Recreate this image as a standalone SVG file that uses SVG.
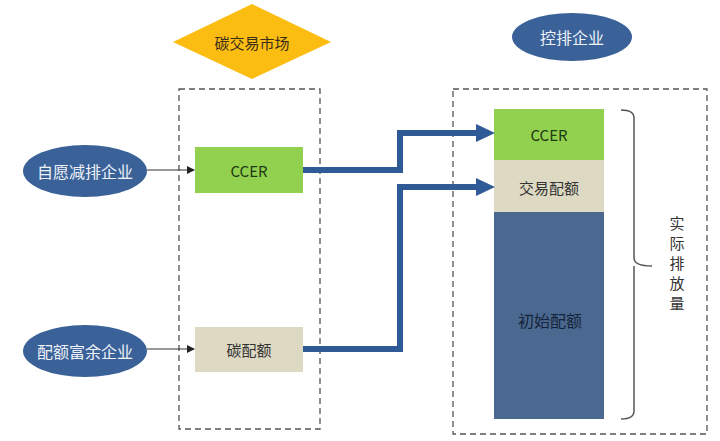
<svg xmlns="http://www.w3.org/2000/svg" width="720" height="441" viewBox="0 0 720 441">
<defs>
<style>
text{font-family:"Noto Sans CJK SC","Noto Sans",sans-serif;text-anchor:middle;dominant-baseline:central}
.ell{fill:#3B6298}
.wt{fill:#EEF2F8;font-size:16px}
.dash{fill:none;stroke:#555;stroke-width:1.3;stroke-dasharray:6 4}
.thin{fill:none;stroke:#333;stroke-width:1}
.thick{fill:none;stroke:#2F5A96;stroke-width:6}
</style>
<marker id="sa" markerWidth="8" markerHeight="8" refX="7" refY="4" orient="auto" markerUnits="userSpaceOnUse">
<path d="M0,0 L8,4 L0,8 Z" fill="#222"/>
</marker>
</defs>
<rect width="720" height="441" fill="#fff"/>
<g id="market-frame"><rect class="dash" x="179" y="89" width="141" height="340"/></g>
<g id="company-frame"><rect class="dash" x="453" y="89" width="254" height="345"/></g>
<g id="carbon-market">
<polygon points="252,4 331,42 252,79 173,42" fill="#FBBD12"/>
<text x="252" y="42" font-size="15" fill="#3A2E1A">碳交易市场</text>
</g>
<g id="controlled-enterprise">
<ellipse class="ell" cx="572" cy="37" rx="60" ry="24"/>
<text class="wt" x="572" y="37">控排企业</text>
</g>
<g id="voluntary-enterprise">
<ellipse class="ell" cx="85" cy="171" rx="62" ry="26"/>
<text class="wt" x="85" y="171">自愿减排企业</text>
</g>
<g id="surplus-enterprise">
<ellipse class="ell" cx="85" cy="351" rx="62" ry="26"/>
<text class="wt" x="85" y="351">配额富余企业</text>
</g>
<g id="ccer-market">
<rect x="195" y="147" width="108" height="46" fill="#92D050"/>
<text x="249" y="170" font-size="15" fill="#1E3A12">CCER</text>
</g>
<g id="allowance-market">
<rect x="195" y="327" width="108" height="45" fill="#DDD9C3"/>
<text x="249" y="349" font-size="15" fill="#333">碳配额</text>
</g>
<g id="ccer-stack">
<rect x="494" y="109" width="110" height="51" fill="#92D050"/>
<text x="549" y="134" font-size="15" fill="#1E3A12">CCER</text>
</g>
<g id="traded-allowance">
<rect x="494" y="160" width="110" height="52" fill="#DDD9C3"/>
<text x="549" y="187" font-size="15" fill="#333">交易配额</text>
</g>
<g id="initial-allowance">
<rect x="494" y="212" width="110" height="207" fill="#4A6890"/>
<text x="550" y="320" font-size="16" fill="#15233A">初始配额</text>
</g>
<g id="actual-emission">
<path d="M621,110 Q634,110 634,118 L634,258 Q634,266 652,266 M634,266 Q634,266 634,274 L634,411 Q634,419 621,419" fill="none" stroke="#555" stroke-width="1.5"/>
<text x="677" y="222" font-size="15" fill="#333">实</text>
<text x="677" y="242" font-size="15" fill="#333">际</text>
<text x="677" y="262" font-size="15" fill="#333">排</text>
<text x="677" y="282" font-size="15" fill="#333">放</text>
<text x="677" y="302" font-size="15" fill="#333">量</text>
</g>
<g id="connectors">
<line class="thin" x1="147" y1="170" x2="194" y2="170" marker-end="url(#sa)"/>
<line class="thin" x1="147" y1="349" x2="194" y2="349" marker-end="url(#sa)"/>
<path class="thick" d="M303,170 H400 V133 H478"/>
<polygon points="476,124 495,133 476,142" fill="#2F5A96"/>
<path class="thick" d="M303,349 H400 V187 H478"/>
<polygon points="476,178 495,187 476,196" fill="#2F5A96"/>
</g>
</svg>
